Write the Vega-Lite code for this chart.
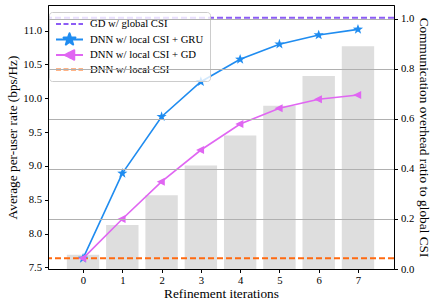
{
  "$schema": "https://vega.github.io/schema/vega-lite/v6.json",
  "width": 346,
  "height": 264,
  "autosize": {"type": "none"},
  "padding": {"left": 48, "top": 5, "right": 42, "bottom": 39},
  "background": "white",
  "config": {
    "view": {"stroke": "black", "strokeWidth": 1},
    "font": "Liberation Serif",
    "axis": {
      "labelFont": "Liberation Serif",
      "labelFontSize": 10.7,
      "labelColor": "black",
      "titleFont": "Liberation Serif",
      "titleFontSize": 13.3,
      "titleFontWeight": "normal",
      "titleColor": "black",
      "tickColor": "black",
      "domainColor": "black",
      "tickSize": 3.5,
      "labelPadding": 3,
      "grid": false
    },
    "legend": {
      "labelFont": "Liberation Serif",
      "labelFontSize": 10.7,
      "labelColor": "black"
    }
  },
  "datasets": {
    "bars": [
      {"iter": 0, "overhead": 0.057},
      {"iter": 1, "overhead": 0.176},
      {"iter": 2, "overhead": 0.295},
      {"iter": 3, "overhead": 0.414},
      {"iter": 4, "overhead": 0.533},
      {"iter": 5, "overhead": 0.652},
      {"iter": 6, "overhead": 0.771},
      {"iter": 7, "overhead": 0.890}
    ],
    "curves": [
      {"iter": 0, "rate": 7.633, "series": "DNN w/ local CSI + GRU"},
      {"iter": 1, "rate": 8.89, "series": "DNN w/ local CSI + GRU"},
      {"iter": 2, "rate": 9.728, "series": "DNN w/ local CSI + GRU"},
      {"iter": 3, "rate": 10.245, "series": "DNN w/ local CSI + GRU"},
      {"iter": 4, "rate": 10.577, "series": "DNN w/ local CSI + GRU"},
      {"iter": 5, "rate": 10.80, "series": "DNN w/ local CSI + GRU"},
      {"iter": 6, "rate": 10.936, "series": "DNN w/ local CSI + GRU"},
      {"iter": 7, "rate": 11.02, "series": "DNN w/ local CSI + GRU"},
      {"iter": 0, "rate": 7.633, "series": "DNN w/ local CSI + GD"},
      {"iter": 1, "rate": 8.214, "series": "DNN w/ local CSI + GD"},
      {"iter": 2, "rate": 8.766, "series": "DNN w/ local CSI + GD"},
      {"iter": 3, "rate": 9.235, "series": "DNN w/ local CSI + GD"},
      {"iter": 4, "rate": 9.62, "series": "DNN w/ local CSI + GD"},
      {"iter": 5, "rate": 9.852, "series": "DNN w/ local CSI + GD"},
      {"iter": 6, "rate": 9.985, "series": "DNN w/ local CSI + GD"},
      {"iter": 7, "rate": 10.049, "series": "DNN w/ local CSI + GD"}
    ],
    "refs": [
      {"series": "GD w/ global CSI", "rate": 11.19},
      {"series": "DNN w/ local CSI", "rate": 7.633}
    ]
  },
  "layer": [
    {
      "data": {"name": "bars"},
      "mark": {"type": "bar", "width": 32.4, "color": "#dedede"},
      "encoding": {
        "x": {
          "field": "iter", "type": "quantitative",
          "scale": {"domain": [-0.765, 7.79], "nice": false, "zero": false},
          "axis": {"values": [0,1,2,3,4,5,6,7], "format": "d", "title": "Refinement iterations", "titlePadding": 1, "zindex": 1}
        },
        "y": {
          "field": "overhead", "type": "quantitative",
          "scale": {"domain": [0, 1.055], "nice": false, "zero": false},
          "axis": {
            "orient": "right",
            "values": [0, 0.2, 0.4, 0.6, 0.8, 1.0],
            "format": ".1f",
            "title": "Communication overhead ratio to global CSI",
            "grid": true,
            "gridColor": "#b0b0b0",
            "gridWidth": 1,
            "zindex": 1,
            "titlePadding": 2.5
          }
        }
      }
    },
    {
      "layer": [
        {
          "data": {"name": "refs"},
          "mark": {"type": "rule", "strokeWidth": 2, "strokeDash": [6, 3]},
          "encoding": {
            "y": {"field": "rate", "type": "quantitative"},
            "color": {"field": "series", "type": "nominal"}
          }
        },
        {
          "data": {"name": "curves"},
          "mark": {"type": "line", "strokeWidth": 1.6},
          "encoding": {
            "x": {"field": "iter", "type": "quantitative"},
            "y": {"field": "rate", "type": "quantitative"},
            "color": {"field": "series", "type": "nominal"}
          }
        },
        {
          "data": {"name": "curves"},
          "mark": {"type": "point", "filled": true, "opacity": 1},
          "encoding": {
            "x": {"field": "iter", "type": "quantitative"},
            "y": {"field": "rate", "type": "quantitative"},
            "color": {"field": "series", "type": "nominal"},
            "shape": {
              "field": "series", "type": "nominal",
              "scale": {"domain": ["DNN w/ local CSI + GRU", "DNN w/ local CSI + GD"], "range": ["M0,-1L0.2351,-0.3236L0.9511,-0.3090L0.3804,0.1236L0.5878,0.8090L0,0.4L-0.5878,0.8090L-0.3804,0.1236L-0.9511,-0.3090L-0.2351,-0.3236Z", "M-0.9,0L0.6,-0.75L0.6,0.75Z"]},
              "legend": null
            },
            "size": {"value": 115}
          }
        }
      ],
      "encoding": {
        "y": {
          "field": "rate", "type": "quantitative",
          "scale": {"domain": [7.475, 11.38], "nice": false, "zero": false},
          "axis": {
            "orient": "left",
            "values": [7.5, 8.0, 8.5, 9.0, 9.5, 10.0, 10.5, 11.0],
            "format": ".1f",
            "title": "Average per-user rate (bps/Hz)",
            "zindex": 1,
            "titlePadding": 3
          }
        },
        "color": {
          "field": "series", "type": "nominal",
          "scale": {
            "domain": ["GD w/ global CSI", "DNN w/ local CSI + GRU", "DNN w/ local CSI + GD", "DNN w/ local CSI"],
            "range": ["#8c5cf5", "#1f8cf0", "#e066f2", "#ff6a10"]
          },
          "legend": {
            "title": null,
            "orient": "none",
            "legendX": 1,
            "legendY": 7,
            "padding": 6,
            "rowPadding": 2.5,
            "strokeColor": "#cccccc",
            "fillColor": "rgba(255,255,255,0.8)",
            "cornerRadius": 3,
            "symbolSize": 100,
            "labelOffset": 23,
            "labelFont": "Liberation Serif",
            "labelFontSize": 10.7,
            "encode": {
              "symbols": {
                "update": {
                  "shape": {"signal": "datum.value === 'DNN w/ local CSI + GRU' ? 'M-1,0H4.4M1.7,-1.25L1.9939,-0.4045L2.8889,-0.3863L2.1755,0.1545L2.4347,1.0113L1.7,0.5L0.9653,1.0113L1.2245,0.1545L0.5111,-0.3863L1.4061,-0.4045Z' : (datum.value === 'DNN w/ local CSI + GD' ? 'M-1,0H4.4M0.75,0L2.65,-0.95L2.65,0.95Z' : 'M-1,0H4.4')"},
                  "strokeDash": {"signal": "(datum.value === 'GD w/ global CSI' || datum.value === 'DNN w/ local CSI') ? [5, 2.5] : [1, 0]"},
                  "stroke": {"scale": "color", "field": "value"},
                  "fill": {"scale": "color", "field": "value"},
                  "strokeWidth": {"value": 2},
                  "strokeJoin": {"value": "round"},
                  "size": {"value": 100},
                  "opacity": {"value": 1}
                }
              }
            }
          }
        }
      }
    }
  ],
  "resolve": {"scale": {"y": "independent"}}
}
